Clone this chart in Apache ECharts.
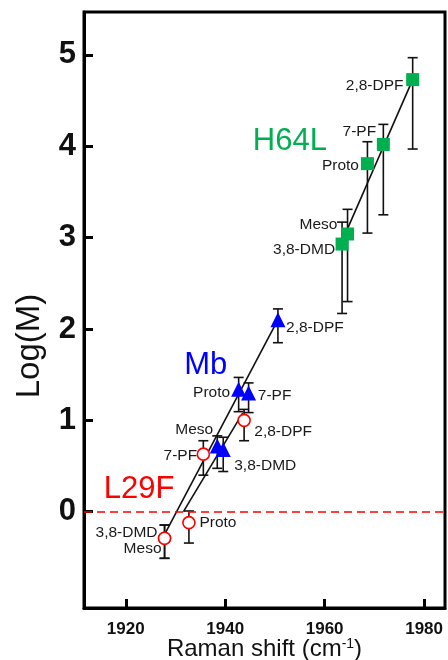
<!DOCTYPE html>
<html><head><meta charset="utf-8">
<script src="https://cdn.jsdelivr.net/npm/echarts@6/dist/echarts.min.js"></script>
<style>html,body{margin:0;padding:0;background:#fff}#c{width:448px;height:660px}</style>
</head><body><div id="c"></div>
<script>
// ---- data ----
const xTicks = [1920, 1940, 1960, 1980];
const yTicks = [0, 1, 2, 3, 4, 5];

const h64lNames = ['3,8-DMD', 'Meso', 'Proto', '7-PF', '2,8-DPF'];
const h64lX = [1963.5, 1964.6, 1968.6, 1971.8, 1977.7];
const h64lY = [2.93, 3.04, 3.81, 4.02, 4.73];
const h64lTop = [3.17, 3.31, 4.05, 4.24, 4.97];
const h64lBottom = [2.17, 2.30, 3.05, 3.25, 3.97];

const mbNames = ['Meso', '3,8-DMD', 'Proto', '7-PF', '2,8-DPF'];
const mbX = [1938.4, 1939.6, 1942.7, 1944.7, 1950.6];
const mbY = [0.72, 0.68, 1.34, 1.30, 2.10];
const mbTop = [0.83, 0.815, 1.47, 1.41, 2.22];
const mbBottom = [0.475, 0.44, 1.095, 1.085, 1.85];

const l29fNames = ['Meso', '3,8-DMD', 'Proto', '7-PF', '2,8-DPF'];
const l29fX = [1927.8, 1927.8, 1932.7, 1935.6, 1943.8];
const l29fY = [-0.29, -0.29, -0.12, 0.63, 1.00];
const l29fTop = [-0.146, -0.146, 0.008, 0.777, 1.12];
const l29fBottom = [-0.51, -0.51, -0.343, 0.40, 0.777];

const fitMb = [[1927.6, -0.27], [1950.4, 2.08]];
const fitL29F = [[1931.6, 0.0], [1943.5, 1.08]];
const fitH64L = [[1964.3, 3.06], [1977.7, 4.73]];

const groupNames = ['H64L', 'Mb', 'L29F'];
const groupAnchors = [[1953.0, 4.05], [1936.1, 1.60], [1922.7, 0.246]];
const refLevel = 0;

// ---- layout / style (label offsets in px relative to point) ----
const FONT = "'Liberation Sans', Arial, sans-serif";
const labelOffsets = {
  H64L: {'2,8-DPF': [-38, 6], '7-PF': [-24, -13], 'Proto': [-27, 2], 'Meso': [-29, -9], '3,8-DMD': [-38, 6]},
  Mb: {'2,8-DPF': [37, 8], 'Proto': [-27, 3], '7-PF': [26, 3], 'Meso': [-23, -16], '3,8-DMD': [42, 16]},
  L29F: {'2,8-DPF': [39, 11], '7-PF': [-23, 2], 'Proto': [29, 0], '3,8-DMD': [-38, -5], 'Meso': [-22, 11]}
};
const groupColors = {H64L: '#00b050', Mb: '#0000ff', L29F: '#ff0000'};

function pointData(group, names, xs, ys) {
  return names.map((n, i) => ({
    name: n,
    value: [xs[i], ys[i]],
    label: {offset: labelOffsets[group][n]}
  }));
}

function errSeries(xs, tops, bottoms) {
  return {
    type: 'custom',
    silent: true,
    z: 3,
    data: xs.map((x, i) => [x, bottoms[i], tops[i]]),
    encode: {x: 0, y: [1, 2]},
    renderItem(params, api) {
      const lo = api.coord([api.value(0), api.value(1)]);
      const hi = api.coord([api.value(0), api.value(2)]);
      const w = 5;
      const style = {stroke: '#111', lineWidth: 1.6};
      return {type: 'group', children: [
        {type: 'line', shape: {x1: lo[0], y1: lo[1], x2: hi[0], y2: hi[1]}, style},
        {type: 'line', shape: {x1: lo[0] - w, y1: lo[1], x2: lo[0] + w, y2: lo[1]}, style},
        {type: 'line', shape: {x1: hi[0] - w, y1: hi[1], x2: hi[0] + w, y2: hi[1]}, style}
      ]};
    }
  };
}

function fitSeries(pts) {
  return {type: 'line', data: pts, symbol: 'none', silent: true, z: 2,
    lineStyle: {color: '#111', width: 1.6}};
}

function groupMark(idx) {
  const g = groupNames[idx];
  return {
    symbol: 'circle', symbolSize: 1, silent: true,
    itemStyle: {color: 'rgba(0,0,0,0)'},
    label: {show: true, position: 'inside', formatter: g, color: groupColors[g],
      fontSize: 31, fontFamily: FONT},
    data: [{coord: groupAnchors[idx]}]
  };
}

const ptLabel = {show: true, position: 'inside', formatter: '{b}', color: '#1a1a1a',
  fontSize: 15.5, fontFamily: FONT};

const chart = echarts.init(document.getElementById('c'), null, {renderer: 'canvas'});
chart.setOption({
  animation: false,
  backgroundColor: '#fff',
  grid: {left: 84, right: 3, top: 12, bottom: 52, show: true, borderColor: '#000', borderWidth: 3,
    containLabel: false, outerBoundsMode: 'none'},
  xAxis: {
    type: 'value', min: 1911.6, max: 1984.2,
    name: 'Raman shift (cm{sup|-1})', nameLocation: 'middle', nameGap: 29, nameMoveOverlap: false,
    nameTextStyle: {fontSize: 24, fontFamily: FONT, color: '#111',
      rich: {sup: {fontSize: 14, verticalAlign: 'top', padding: [0, 0, 10, 0], fontFamily: FONT, color: '#111'}}},
    axisLine: {onZero: false, lineStyle: {color: '#000', width: 3}},
    axisTick: {inside: true, length: 9, lineStyle: {color: '#000', width: 3}, customValues: xTicks},
    axisLabel: {customValues: xTicks, formatter: v => String(v), fontSize: 17, fontWeight: 'bold',
      fontFamily: FONT, color: '#111', margin: 13},
    splitLine: {show: false}
  },
  yAxis: {
    type: 'value', min: -1.054, max: 5.47,
    name: 'Log(M)', nameLocation: 'middle', nameGap: 38, nameMoveOverlap: false,
    nameTextStyle: {fontSize: 33, fontFamily: FONT, color: '#111', padding: [0, 72, 0, 0]},
    axisLine: {onZero: false, lineStyle: {color: '#000', width: 3}},
    axisTick: {inside: true, length: 9, lineStyle: {color: '#000', width: 3}, customValues: yTicks},
    axisLabel: {customValues: yTicks, formatter: v => String(v), fontSize: 31, fontWeight: 'bold',
      fontFamily: FONT, color: '#111', margin: 8},
    splitLine: {show: false}
  },
  series: [
    fitSeries(fitMb),
    fitSeries(fitL29F),
    fitSeries(fitH64L),
    errSeries(h64lX, h64lTop, h64lBottom),
    errSeries(mbX, mbTop, mbBottom),
    errSeries(l29fX, l29fTop, l29fBottom),
    {
      name: 'L29F', type: 'scatter', z: 5,
      symbol: 'circle', symbolSize: 12,
      itemStyle: {color: '#fff', borderColor: '#ff0000', borderWidth: 1.6, opacity: 1},
      label: ptLabel,
      data: pointData('L29F', l29fNames, l29fX, l29fY),
      markLine: {
        silent: true, symbol: 'none', label: {show: false},
        lineStyle: {color: '#ff0000', type: [8, 5], width: 1.5},
        data: [{yAxis: refLevel}]
      },
      markPoint: groupMark(2)
    },
    {
      name: 'Mb', type: 'scatter', z: 5,
      symbol: 'triangle', symbolSize: 15,
      itemStyle: {color: '#0000ff', opacity: 1},
      label: ptLabel,
      data: pointData('Mb', mbNames, mbX, mbY),
      markPoint: groupMark(1)
    },
    {
      name: 'H64L', type: 'scatter', z: 5,
      symbol: 'rect', symbolSize: 13,
      itemStyle: {color: '#00b050', opacity: 1},
      label: ptLabel,
      data: pointData('H64L', h64lNames, h64lX, h64lY),
      markPoint: groupMark(0)
    }
  ]
});
</script>
</body></html>
